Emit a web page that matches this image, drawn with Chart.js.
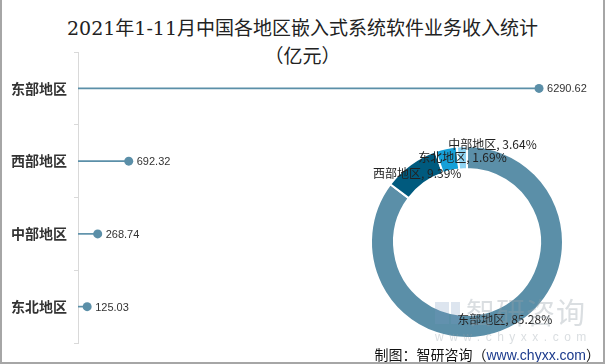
<!DOCTYPE html>
<html>
<head>
<meta charset="utf-8">
<script src="https://cdn.jsdelivr.net/npm/chart.js@4.4.1/dist/chart.umd.min.js"></script>
<style>
  html, body { margin: 0; padding: 0; background: #fff; }
  #wrap { position: relative; width: 605px; height: 364px; overflow: hidden; background: #fff;
          box-sizing: border-box; border-left: 2px solid #a6a6a6; border-right: 2px solid #a6a6a6; border-bottom: 2px solid #a6a6a6; }
  #title { position: absolute; left: 0; top: 14px; width: 601px; text-align: center;
           font-family: "DejaVu Serif", "Liberation Serif", "Noto Sans CJK SC", serif; font-size: 19px; line-height: 28px; color: #222; }
  #c1 { position: absolute; left: -2px; top: 0; }
  #c2 { position: absolute; left: 335px; top: 112px; }
  #src { position: absolute; right: 3px; top: 344px; font-family: "Noto Sans CJK SC", sans-serif; font-size: 14px; line-height: 20px; color: #111; white-space: nowrap; }
  #src .u { font-family: "Liberation Sans", Arial, sans-serif; color: #1b3a8c; }
  .wm { position: absolute; color: rgba(150,160,170,0.35); white-space: nowrap; font-family: "Noto Sans CJK SC", sans-serif; }
  .logo { position: absolute; background: rgba(120,150,190,0.25); }
</style>
</head>
<body>
<div id="wrap">
  <div id="title">2021年1-11月中国各地区嵌入式系统软件业务收入统计<br>（亿元）</div>
  <canvas id="c1" width="605" height="364"></canvas>
  <canvas id="c2" width="260" height="260"></canvas>
  <div class="logo" style="left:433px;top:302px;width:14px;height:22px;"></div>
  <div class="logo" style="left:449px;top:302px;width:9px;height:22px;"></div>
  <div class="wm" style="left:464px;top:294px;font-size:29px;line-height:34px;letter-spacing:1px;">智研咨询</div>
  <div class="wm" style="left:433px;top:330px;font-size:12px;line-height:14px;letter-spacing:5.5px;font-family:'Liberation Sans',sans-serif;">www.chyxx.com</div>
  <div id="src">制图：智研咨询（<span class="u">www.chyxx.com</span>）</div>
</div>
<script>
const categories = ['东部地区', '西部地区', '中部地区', '东北地区'];
const revenue = [6290.62, 692.32, 268.74, 125.03];
const mainColor = '#5b8fa8';
const ringColors = ['#5b8fa8', '#005a7e', '#16a0d8', '#8fd3f2'];

const valueLabels = {
  id: 'valueLabels',
  afterDatasetsDraw(chart) {
    const ctx = chart.ctx;
    const meta = chart.getDatasetMeta(1);
    ctx.save();
    ctx.font = '11px "Liberation Sans", Arial, sans-serif';
    ctx.fillStyle = '#333';
    ctx.textAlign = 'left';
    ctx.textBaseline = 'middle';
    meta.data.forEach((pt, i) => {
      ctx.fillText(revenue[i].toFixed(2), pt.x + 8, pt.y + 1);
    });
    ctx.restore();
  }
};

new Chart(document.getElementById('c1'), {
  type: 'bar',
  data: {
    labels: categories,
    datasets: [
      { type: 'bar', indexAxis: 'y', data: revenue, backgroundColor: mainColor, barThickness: 1 },
      { type: 'line', indexAxis: 'y', data: revenue, showLine: false, pointRadius: 4.5,
        pointBackgroundColor: mainColor, pointBorderWidth: 0, pointHoverRadius: 4.5 }
    ]
  },
  options: {
    indexAxis: 'y',
    responsive: false,
    animation: false,
    layout: { padding: { top: 52, bottom: 21, left: 0, right: 14 } },
    plugins: { legend: { display: false }, tooltip: { enabled: false } },
    scales: {
      x: { type: 'linear', min: 0, max: 7000, display: false },
      y: {
        type: 'category',
        offset: true,
        grid: { offset: true, drawOnChartArea: false, tickLength: 4, color: '#d9d9d9' },
        border: { display: true, color: '#d9d9d9' },
        ticks: { font: { size: 14, weight: 'bold', family: '"Noto Sans CJK SC", sans-serif' }, color: '#333', padding: 7 },
        afterFit(scale) { scale.width = 78; }
      }
    }
  },
  plugins: [valueLabels]
});

const total = revenue.reduce((a, b) => a + b, 0);
const ringLabelShift = [[0, 2], [0, 0], [44, -15], [0, 0]];
const ringLabels = {
  id: 'ringLabels',
  afterDatasetsDraw(chart) {
    const ctx = chart.ctx;
    const meta = chart.getDatasetMeta(0);
    ctx.save();
    ctx.font = '12px "Noto Sans CJK SC", sans-serif';
    ctx.fillStyle = '#222';
    ctx.textAlign = 'center';
    ctx.textBaseline = 'middle';
    meta.data.forEach((arc, i) => {
      const p = arc.getProps(['x', 'y', 'startAngle', 'endAngle', 'innerRadius', 'outerRadius']);
      const a = (p.startAngle + p.endAngle) / 2;
      const r = (p.innerRadius + p.outerRadius) / 2;
      const x = p.x + Math.cos(a) * r + ringLabelShift[i][0];
      const y = p.y + Math.sin(a) * r + ringLabelShift[i][1];
      const pct = (revenue[i] / total * 100).toFixed(2);
      ctx.fillText(categories[i] + ', ' + pct + '%', x, y);
    });
    ctx.restore();
  }
};

new Chart(document.getElementById('c2'), {
  type: 'doughnut',
  data: {
    labels: categories,
    datasets: [{ data: revenue, backgroundColor: ringColors, borderColor: '#fff', borderWidth: 2, hoverOffset: 0 }]
  },
  options: {
    responsive: false,
    animation: false,
    cutout: '76%',
    layout: { padding: 33 },
    plugins: { legend: { display: false }, tooltip: { enabled: false } }
  },
  plugins: [ringLabels]
});
</script>
</body>
</html>
